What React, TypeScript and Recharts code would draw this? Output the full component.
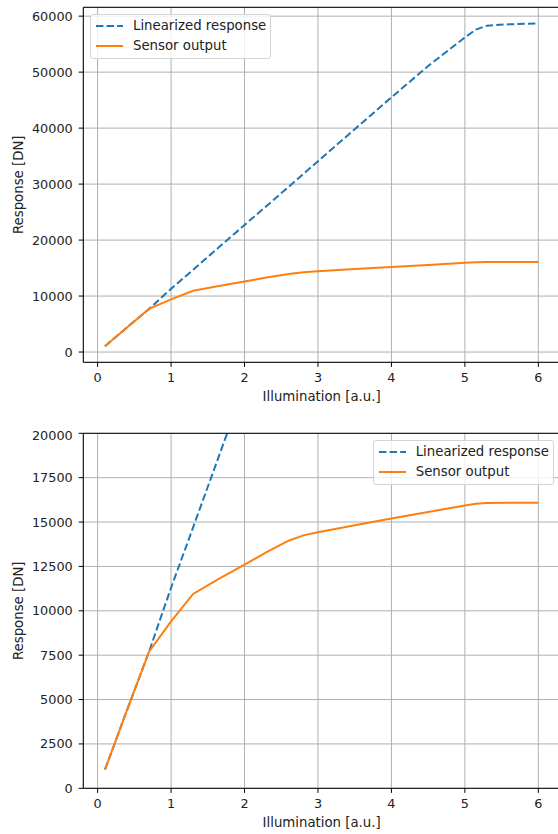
import {
  LineChart,
  Line,
  XAxis,
  YAxis,
  CartesianGrid,
  Legend,
  ReferenceLine,
} from "recharts";

const illumination = [
  0.1, 0.4, 0.7, 1.0, 1.3, 1.65, 2.0, 2.3, 2.6, 2.8, 3.0, 3.5, 4.0, 4.5, 5.0, 5.15, 5.3, 5.6, 6.0,
];
const linearized = [
  1050, 4400, 7700, 11300, 14700, 18700, 22700, 26100, 29500, 31800, 34100, 39800, 45500, 51100,
  56200, 57600, 58300, 58550, 58700,
];
const sensor = [
  1050, 4400, 7700, 9400, 10950, 11800, 12600, 13300, 13950, 14250, 14420, 14820, 15200, 15570,
  15930, 16030, 16080, 16090, 16090,
];

const xTicks = [0, 1, 2, 3, 4, 5, 6];
const topYTicks = [0, 10000, 20000, 30000, 40000, 50000, 60000];
const zoomYTicks = [0, 2500, 5000, 7500, 10000, 12500, 15000, 17500, 20000];
const zoomYDomain = [0, 20000];

const SERIES = [
  { key: "linearized", name: "Linearized response", color: "#1f77b4", dash: "7.4 3.2" },
  { key: "sensor", name: "Sensor output", color: "#ff7f0e", dash: undefined },
];

const data = illumination.map((x, i) => ({ x, linearized: linearized[i], sensor: sensor[i] }));

// matplotlib-style 5% margins around the data
const pad = (lo: number, hi: number) => {
  const r = hi - lo;
  return [lo - 0.05 * r, hi + 0.05 * r];
};
const xDomain = pad(Math.min(...illumination), Math.max(...illumination));
const topYDomain = pad(Math.min(...linearized, ...sensor), Math.max(...linearized, ...sensor));

const FONT = "DejaVu Sans, sans-serif";
const TEXT = "#222";
const FS = 13.3;
const TICK_FS = 12.8;

function LegendBox() {
  return (
    <div
      style={{
        background: "rgba(255,255,255,0.8)",
        border: "1px solid #d4d4d4",
        borderRadius: 3,
        padding: "1px 4px 3px 5px",
        fontFamily: FONT,
        fontSize: FS,
        color: TEXT,
        whiteSpace: "nowrap",
      }}
    >
      {SERIES.map((s) => (
        <div key={s.key} style={{ display: "flex", alignItems: "center", height: 19.7 }}>
          <svg width={27} height={4} style={{ display: "block" }}>
            <line x1={0} x2={27} y1={2} y2={2} stroke={s.color} strokeWidth={2} strokeDasharray={s.dash} />
          </svg>
          <span style={{ marginLeft: 10 }}>{s.name}</span>
        </div>
      ))}
    </div>
  );
}

function Panel({
  height,
  top,
  xAxisHeight,
  yDomain,
  yTicks,
  legendPos,
}: {
  height: number;
  top: number;
  xAxisHeight: number;
  yDomain: number[];
  yTicks: number[];
  legendPos: { left: number; top: number };
}) {
  return (
    <LineChart width={562} height={height} data={data} margin={{ top, right: 2, left: 0, bottom: 0 }}>
      <CartesianGrid stroke="#b0b0b0" strokeWidth={1} />
      <XAxis
        type="number"
        dataKey="x"
        domain={xDomain}
        ticks={xTicks}
        allowDataOverflow
        height={xAxisHeight}
        axisLine={{ stroke: "#000", strokeWidth: 1 }}
        tickLine={{ stroke: "#000", strokeWidth: 1 }}
        tickSize={4.6}
        tickMargin={5.6}
        tick={{ fill: TEXT, fontSize: TICK_FS, fontFamily: FONT }}
        label={{
          value: "Illumination [a.u.]",
          position: "insideTop",
          offset: 29.5,
          fill: TEXT,
          fontSize: FS,
          fontFamily: FONT,
        }}
      />
      <YAxis
        type="number"
        domain={yDomain}
        ticks={yTicks}
        allowDataOverflow
        width={83.3}
        axisLine={{ stroke: "#000", strokeWidth: 1 }}
        tickLine={{ stroke: "#000", strokeWidth: 1 }}
        tickSize={4.6}
        tickMargin={6}
        tick={{ fill: TEXT, fontSize: TICK_FS, fontFamily: FONT }}
        label={{
          value: "Response [DN]",
          position: "center",
          angle: -90,
          dx: -23.6,
          fill: TEXT,
          fontSize: FS,
          fontFamily: FONT,
        }}
      />
      <ReferenceLine y={yDomain[1]} stroke="#000" strokeWidth={1} />
      {SERIES.map((s) => (
        <Line
          key={s.key}
          type="linear"
          dataKey={s.key}
          name={s.name}
          stroke={s.color}
          strokeWidth={2}
          strokeDasharray={s.dash}
          dot={false}
          activeDot={false}
          isAnimationActive={false}
        />
      ))}
      <Legend
        layout="vertical"
        align="center"
        verticalAlign="middle"
        wrapperStyle={{ left: legendPos.left, top: legendPos.top, width: "auto", height: "auto" }}
        content={() => <LegendBox />}
      />
    </LineChart>
  );
}

export default function App() {
  return (
    <div
      style={{
        position: "absolute",
        left: 0,
        top: 0,
        width: 558,
        height: 834,
        overflow: "hidden",
        background: "#fff",
      }}
    >
      <Panel
        height={428}
        top={7.3}
        xAxisHeight={65.7}
        yDomain={topYDomain}
        yTicks={topYTicks}
        legendPos={{ left: 90, top: 14 }}
      />
      <Panel
        height={406}
        top={5.3}
        xAxisHeight={45.7}
        yDomain={zoomYDomain}
        yTicks={zoomYTicks}
        legendPos={{ left: 372.7, top: 12 }}
      />
    </div>
  );
}
